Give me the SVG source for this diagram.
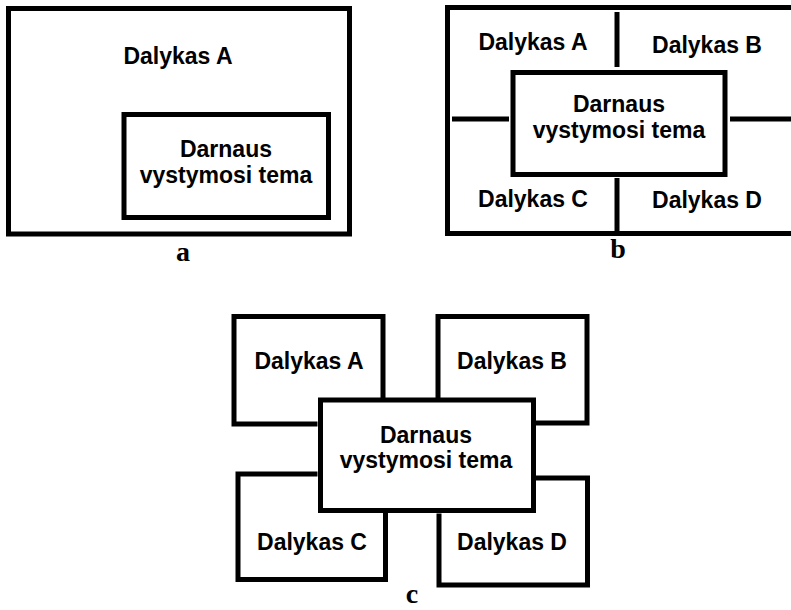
<svg xmlns="http://www.w3.org/2000/svg" width="791" height="610" viewBox="0 0 791 610">
<style>
.box{fill:none;stroke:#000;stroke-width:5;stroke-linecap:square}
.core{fill:#fff;stroke:#000;stroke-width:5}
.ln{stroke:#000;stroke-width:5;fill:none}
.t{font-family:"Liberation Sans",Arial,sans-serif;font-weight:bold;font-size:23px;text-anchor:middle;fill:#000}
.lab{font-family:"Liberation Serif","Times New Roman",serif;font-weight:bold;font-size:28px;text-anchor:middle;fill:#000}
</style>
<rect width="791" height="610" fill="#fff"/>

<!-- Panel a -->
<g id="a-outer">
<rect class="box" x="8.5" y="8.5" width="341" height="225.5"/>
<text class="t" x="178" y="64">Dalykas A</text>
</g>
<g id="a-core">
<rect class="core" x="124" y="114.5" width="204.5" height="103"/>
<text class="t" x="226" y="157">Darnaus</text>
<text class="t" x="226" y="183">vystymosi tema</text>
</g>
<text class="lab" x="183" y="261">a</text>

<!-- Panel b -->
<g id="b-outer">
<rect class="box" x="447.5" y="7.5" width="360" height="226"/>
</g>
<g id="connectors">
<line class="ln" x1="617" y1="12" x2="617" y2="67"/>
<line class="ln" x1="617" y1="178" x2="617" y2="231"/>
<line class="ln" x1="452" y1="119" x2="509" y2="119"/>
<line class="ln" x1="730" y1="119" x2="791" y2="119"/>
</g>
<g id="b-A"><text class="t" x="533" y="50">Dalykas A</text></g>
<g id="b-B"><text class="t" x="707" y="53">Dalykas B</text></g>
<g id="b-C"><text class="t" x="533" y="207">Dalykas C</text></g>
<g id="b-D"><text class="t" x="707" y="208">Dalykas D</text></g>
<g id="b-core">
<rect class="core" x="513" y="72.5" width="212" height="102"/>
<text class="t" x="619" y="112">Darnaus</text>
<text class="t" x="619" y="138">vystymosi tema</text>
</g>
<text class="lab" x="618" y="258">b</text>

<!-- Panel c -->
<g id="c-A">
<path class="box" d="M315 424 H234 V316.5 H383 V398"/>
<text class="t" x="309" y="369">Dalykas A</text>
</g>
<g id="c-B">
<path class="box" d="M533 423 H587 V316.5 H438 V398"/>
<text class="t" x="512" y="369">Dalykas B</text>
</g>
<g id="c-C">
<path class="box" d="M315 474 H238 V579.5 H385.5 V515"/>
<text class="t" x="312" y="550">Dalykas C</text>
</g>
<g id="c-D">
<path class="box" d="M533 478 H587.5 V585 H439 V516"/>
<text class="t" x="512" y="550">Dalykas D</text>
</g>
<g id="c-core">
<rect class="core" x="320.5" y="400" width="213" height="110.5"/>
<text class="t" x="426" y="443">Darnaus</text>
<text class="t" x="426" y="468">vystymosi tema</text>
</g>
<text class="lab" x="412" y="603">c</text>
</svg>
